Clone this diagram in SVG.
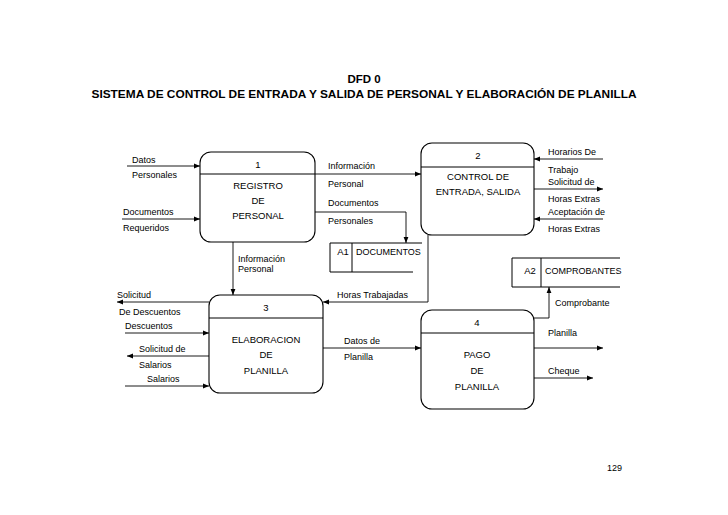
<svg xmlns="http://www.w3.org/2000/svg" width="728" height="515" viewBox="0 0 728 515">
<style>
text{font-family:"Liberation Sans",Arial,sans-serif;fill:#000}
.t{font-size:9px}
.n{font-size:9.5px;text-anchor:middle}
.h{font-size:11.5px;font-weight:bold;text-anchor:middle}
.box{fill:#fff;stroke:#000;stroke-width:1.1}
.ln{fill:none;stroke:#000;stroke-width:1}
.c{fill:none;stroke:#000;stroke-width:0.9;marker-end:url(#ah)}
</style>
<defs>
<marker id="ah" viewBox="0 0 10 10" refX="10" refY="5" markerWidth="6" markerHeight="6" markerUnits="userSpaceOnUse" orient="auto">
<path d="M0,1 L10,5 L0,9 z" fill="#000"/>
</marker>
</defs>
<rect width="728" height="515" fill="#fff"/>
<text class="h" x="364" y="83">DFD 0</text>
<text class="h" x="364" y="98" textLength="545" lengthAdjust="spacingAndGlyphs">SISTEMA DE CONTROL DE ENTRADA Y SALIDA DE PERSONAL Y ELABORACIÓN DE PLANILLA</text>

<g id="node1">
<rect class="box" x="200" y="152" width="115" height="90" rx="11"/>
<line class="ln" x1="200" y1="174" x2="315" y2="174"/>
<text class="n" x="258" y="168">1</text>
<text class="n" x="258" y="189">REGISTRO</text>
<text class="n" x="258" y="204">DE</text>
<text class="n" x="258" y="219">PERSONAL</text>
</g>
<g id="node2">
<rect class="box" x="421" y="143" width="113" height="92" rx="11"/>
<line class="ln" x1="421" y1="167" x2="534" y2="167"/>
<text class="n" x="478" y="159">2</text>
<text class="n" x="478" y="180">CONTROL DE</text>
<text class="n" x="478" y="195">ENTRADA, SALIDA</text>
</g>
<g id="node3">
<rect class="box" x="209" y="295" width="114" height="98" rx="11"/>
<line class="ln" x1="209" y1="318" x2="323" y2="318"/>
<text class="n" x="266" y="311">3</text>
<text class="n" x="266" y="343">ELABORACION</text>
<text class="n" x="266" y="358">DE</text>
<text class="n" x="266" y="374">PLANILLA</text>
</g>
<g id="node4">
<rect class="box" x="421" y="310" width="113" height="99" rx="11"/>
<line class="ln" x1="421" y1="333" x2="534" y2="333"/>
<text class="n" x="477" y="326">4</text>
<text class="n" x="477" y="358">PAGO</text>
<text class="n" x="477" y="374">DE</text>
<text class="n" x="477" y="390">PLANILLA</text>
</g>
<g id="storeA1">
<path class="ln" d="M422,243 H330 V272 H413"/>
<line class="ln" x1="352" y1="243" x2="352" y2="272"/>
<text class="n" x="343" y="255">A1</text>
<text class="t" x="356" y="255">DOCUMENTOS</text>
</g>
<g id="storeA2">
<path class="ln" d="M620,258 H512 V287 H620"/>
<line class="ln" x1="541" y1="258" x2="541" y2="287"/>
<text class="n" x="530" y="274">A2</text>
<text class="t" x="545" y="274">COMPROBANTES</text>
</g>

<g id="connectors">
<line class="c" x1="127" y1="166" x2="200" y2="166"/>
<line class="c" x1="122" y1="219" x2="200" y2="219"/>
<line class="c" x1="315" y1="174" x2="421" y2="174"/>
<path class="c" d="M315,212 H406 V243"/>
<line class="c" x1="603" y1="159" x2="534" y2="159"/>
<line class="c" x1="534" y1="189" x2="603" y2="189"/>
<line class="c" x1="603" y1="219" x2="534" y2="219"/>
<line class="c" x1="233" y1="242" x2="233" y2="295"/>
<path class="c" d="M428,235 V302 H323"/>
<line class="c" x1="209" y1="302" x2="117" y2="302"/>
<line class="c" x1="125" y1="333" x2="209" y2="333"/>
<line class="c" x1="209" y1="356" x2="127" y2="356"/>
<line class="c" x1="125" y1="386" x2="209" y2="386"/>
<line class="c" x1="323" y1="348" x2="421" y2="348"/>
<path class="c" d="M534,318 H549 V287"/>
<line class="c" x1="534" y1="348" x2="603" y2="348"/>
<line class="c" x1="534" y1="378" x2="593" y2="378"/>
</g>

<g id="labels">
<text class="t" x="132" y="163">Datos</text>
<text class="t" x="132" y="178">Personales</text>
<text class="t" x="123" y="215">Documentos</text>
<text class="t" x="123" y="231">Requeridos</text>
<text class="t" x="328" y="169">Información</text>
<text class="t" x="328" y="187">Personal</text>
<text class="t" x="328" y="206">Documentos</text>
<text class="t" x="328" y="224">Personales</text>
<text class="t" x="548" y="155">Horarios De</text>
<text class="t" x="548" y="173">Trabajo</text>
<text class="t" x="548" y="185">Solicitud de</text>
<text class="t" x="548" y="202">Horas Extras</text>
<text class="t" x="548" y="215">Aceptación de</text>
<text class="t" x="548" y="232">Horas Extras</text>
<text class="t" x="238" y="262">Información</text>
<text class="t" x="238" y="272">Personal</text>
<text class="t" x="117" y="298">Solicitud</text>
<text class="t" x="119" y="315">De Descuentos</text>
<text class="t" x="125" y="329">Descuentos</text>
<text class="t" x="139" y="352">Solicitud de</text>
<text class="t" x="139" y="368">Salarios</text>
<text class="t" x="147" y="382">Salarios</text>
<text class="t" x="337" y="298">Horas Trabajadas</text>
<text class="t" x="344" y="344">Datos de</text>
<text class="t" x="344" y="360">Planilla</text>
<text class="t" x="555" y="306">Comprobante</text>
<text class="t" x="548" y="336">Planilla</text>
<text class="t" x="548" y="374">Cheque</text>
<text class="t" x="607" y="471">129</text>
</g>
</svg>
